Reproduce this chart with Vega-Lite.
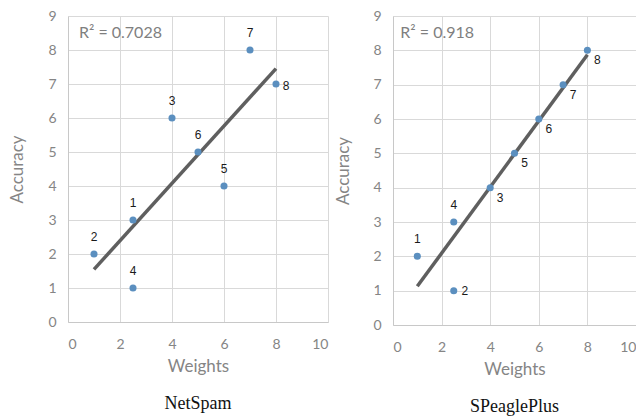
{
  "$schema": "https://vega.github.io/schema/vega-lite/v6.json",
  "padding": {"left": 8, "top": 9, "right": 0, "bottom": 0},
  "background": "white",
  "spacing": 6,
  "datasets": {
    "netspam": [
      {"label": "1", "weights": 2.5, "accuracy": 3},
      {"label": "2", "weights": 1, "accuracy": 2},
      {"label": "3", "weights": 4, "accuracy": 6},
      {"label": "4", "weights": 2.5, "accuracy": 1},
      {"label": "5", "weights": 6, "accuracy": 4},
      {"label": "6", "weights": 5, "accuracy": 5},
      {"label": "7", "weights": 7, "accuracy": 8},
      {"label": "8", "weights": 8, "accuracy": 7}
    ],
    "speagle": [
      {"label": "1", "weights": 1, "accuracy": 2},
      {"label": "2", "weights": 2.5, "accuracy": 1},
      {"label": "3", "weights": 4, "accuracy": 4},
      {"label": "4", "weights": 2.5, "accuracy": 3},
      {"label": "5", "weights": 5, "accuracy": 5},
      {"label": "6", "weights": 6, "accuracy": 6},
      {"label": "7", "weights": 7, "accuracy": 7},
      {"label": "8", "weights": 8, "accuracy": 8}
    ]
  },
  "config": {
    "view": {"stroke": null},
    "font": "Lato",
    "axis": {
      "gridColor": "#d9d9d9",
      "domainColor": "#c8c8c8",
      "ticks": false,
      "labelColor": "#858585",
      "labelFontSize": 14,
      "labelFont": "Lato",
      "titleColor": "#858585",
      "titleFontSize": 17,
      "titleFontWeight": "normal",
      "titleFont": "Lato"
    },
    "title": {"font": "Liberation Serif", "fontSize": 18, "fontWeight": "normal", "color": "#111111", "orient": "bottom", "offset": 21}
  },
  "hconcat": [
    {
      "width": 260,
      "height": 306,
      "title": {"text": "NetSpam", "orient": "bottom"},
      "data": {"name": "netspam"},
      "encoding": {
        "x": {"field": "weights", "type": "quantitative", "scale": {"domain": [0, 10], "nice": false}, "axis": {"values": [0, 2, 4, 6, 8, 10], "title": "Weights", "labelPadding": 15, "titlePadding": 7}},
        "y": {"field": "accuracy", "type": "quantitative", "scale": {"domain": [0, 9], "nice": false}, "axis": {"values": [0, 1, 2, 3, 4, 5, 6, 7, 8, 9], "title": "Accuracy", "labelPadding": 12, "titlePadding": 21}}
      },
      "layer": [
        {
          "transform": [{"regression": "accuracy", "on": "weights"}],
          "mark": {"type": "line", "color": "#5f5f5f", "strokeWidth": 3.5}
        },
        {
          "mark": {"type": "circle", "color": "#5b8fbf", "opacity": 1, "size": 50}
        },
        {
          "transform": [{"filter": {"field": "label", "oneOf": ["1", "2", "3", "4", "5", "6", "7"]}}],
          "mark": {"type": "text", "baseline": "middle", "dy": -17, "fontSize": 12, "fontWeight": "normal", "color": "#1a1a1a", "font": "Liberation Sans"},
          "encoding": {"text": {"field": "label"}}
        },
        {
          "transform": [{"filter": {"field": "label", "oneOf": ["8"]}}],
          "mark": {"type": "text", "baseline": "middle", "dx": 10, "dy": 2, "fontSize": 12, "fontWeight": "normal", "color": "#1a1a1a", "font": "Liberation Sans"},
          "encoding": {"text": {"field": "label"}}
        },
        {
          "transform": [{"filter": {"field": "label", "equal": "1"}}],
          "mark": {"type": "text", "align": "left", "baseline": "middle", "fontSize": 16, "fontWeight": "normal", "color": "#7f7f7f", "font": "Lato"},
          "encoding": {"x": {"datum": 0.42}, "y": {"datum": 8.5}, "text": {"value": "R² = 0.7028"}}
        }
      ]
    },
    {
      "width": 243,
      "height": 309,
      "title": {"text": "SPeaglePlus", "orient": "bottom"},
      "data": {"name": "speagle"},
      "encoding": {
        "x": {"field": "weights", "type": "quantitative", "scale": {"domain": [0, 10], "nice": false}, "axis": {"values": [0, 2, 4, 6, 8, 10], "title": "Weights", "labelPadding": 15, "titlePadding": 7}},
        "y": {"field": "accuracy", "type": "quantitative", "scale": {"domain": [0, 9], "nice": false}, "axis": {"values": [0, 1, 2, 3, 4, 5, 6, 7, 8, 9], "title": "Accuracy", "labelPadding": 12, "titlePadding": 20}}
      },
      "layer": [
        {
          "transform": [{"regression": "accuracy", "on": "weights"}],
          "mark": {"type": "line", "color": "#5f5f5f", "strokeWidth": 3.5}
        },
        {
          "mark": {"type": "circle", "color": "#5b8fbf", "opacity": 1, "size": 50}
        },
        {
          "transform": [{"filter": {"field": "label", "oneOf": ["1", "4"]}}],
          "mark": {"type": "text", "baseline": "middle", "dy": -17, "fontSize": 12, "fontWeight": "normal", "color": "#1a1a1a", "font": "Liberation Sans"},
          "encoding": {"text": {"field": "label"}}
        },
        {
          "transform": [{"filter": {"field": "label", "oneOf": ["2"]}}],
          "mark": {"type": "text", "baseline": "middle", "dx": 11, "dy": 0, "fontSize": 12, "fontWeight": "normal", "color": "#1a1a1a", "font": "Liberation Sans"},
          "encoding": {"text": {"field": "label"}}
        },
        {
          "transform": [{"filter": {"field": "label", "oneOf": ["3", "5", "6", "7", "8"]}}],
          "mark": {"type": "text", "baseline": "middle", "dx": 10, "dy": 10, "fontSize": 12, "fontWeight": "normal", "color": "#1a1a1a", "font": "Liberation Sans"},
          "encoding": {"text": {"field": "label"}}
        },
        {
          "transform": [{"filter": {"field": "label", "equal": "1"}}],
          "mark": {"type": "text", "align": "left", "baseline": "middle", "fontSize": 16, "fontWeight": "normal", "color": "#7f7f7f", "font": "Lato"},
          "encoding": {"x": {"datum": 0.3}, "y": {"datum": 8.5}, "text": {"value": "R² = 0.918"}}
        }
      ]
    }
  ]
}
